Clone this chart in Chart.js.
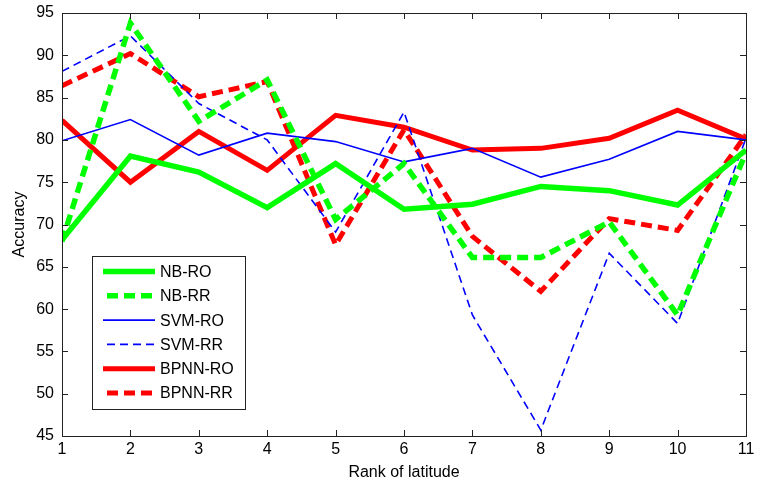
<!DOCTYPE html>
<html>
<head>
<meta charset="utf-8">
<script src="https://cdn.jsdelivr.net/npm/chart.js@4/dist/chart.umd.min.js"></script>
<style>
  html, body { margin: 0; padding: 0; background: #fff; }
  #wrap { width: 759px; height: 482px; }
</style>
</head>
<body>
<div id="wrap"><canvas id="c"></canvas></div>
<script>
"use strict";

// rank of latitude (x axis)
const ranks = [1, 2, 3, 4, 5, 6, 7, 8, 9, 10, 11];
const yTicks = [45, 50, 55, 60, 65, 70, 75, 80, 85, 90, 95];

// accuracy values
const nbRO = [68.2, 78.1, 76.2, 72.0, 77.2, 71.8, 72.4, 74.5, 74.0, 72.3, 78.8];
const nbRR = [68.0, 93.8, 82.2, 87.1, 70.6, 77.2, 66.1, 66.1, 70.3, 59.3, 78.5];
const svmRO = [79.9, 82.4, 78.2, 80.8, 79.8, 77.4, 79.0, 75.6, 77.7, 81.0, 80.0];
const svmRR = [88.1, 92.3, 84.3, 80.0, 69.1, 83.3, 59.3, 45.7, 66.6, 58.3, 80.2];
const bpnnRO = [82.3, 75.0, 81.0, 76.4, 82.9, 81.5, 78.8, 79.0, 80.2, 83.5, 80.1];
const bpnnRR = [86.4, 90.2, 85.1, 86.9, 67.6, 81.2, 68.6, 62.1, 70.7, 69.3, 80.6];

const GREEN = "#00ff00", BLUE = "#0000ff", RED = "#ff0000";
const FONT = "'Liberation Sans', Arial, sans-serif";

function series(label, values, color, width, dash) {
  return {
    label: label,
    data: values.map((v, i) => ({ x: ranks[i], y: v })),
    borderColor: color,
    backgroundColor: color,
    borderWidth: width,
    borderDash: dash,
    pointRadius: 0,
    tension: 0,
    fill: false
  };
}

const datasets = [
  series("NB-RO", nbRO, GREEN, 5.5, []),
  series("NB-RR", nbRR, GREEN, 5.5, [11, 6]),
  series("SVM-RO", svmRO, BLUE, 1.6, []),
  series("SVM-RR", svmRR, BLUE, 1.6, [8, 5]),
  series("BPNN-RO", bpnnRO, RED, 5, []),
  series("BPNN-RR", bpnnRR, RED, 5, [11, 6])
];

// matlab style frame: full box with inward ticks on all four sides
const framePlugin = {
  id: "frame",
  afterDraw(chart) {
    const ctx = chart.ctx, a = chart.chartArea;
    const xs = chart.scales.x, ys = chart.scales.y;
    ctx.save();
    ctx.strokeStyle = "#222";
    ctx.lineWidth = 1;
    ctx.beginPath();
    ranks.forEach(r => {
      const px = Math.round(xs.getPixelForValue(r)) + 0.5;
      ctx.moveTo(px, a.bottom); ctx.lineTo(px, a.bottom - 6);
      ctx.moveTo(px, a.top); ctx.lineTo(px, a.top + 6);
    });
    yTicks.forEach(t => {
      const py = Math.round(ys.getPixelForValue(t)) + 0.5;
      ctx.moveTo(a.left, py); ctx.lineTo(a.left + 6, py);
      ctx.moveTo(a.right, py); ctx.lineTo(a.right - 6, py);
    });
    ctx.stroke();
    ctx.strokeRect(Math.round(a.left) + 0.5, Math.round(a.top) + 0.5,
      Math.round(a.right - a.left), Math.round(a.bottom - a.top));
    ctx.restore();
  }
};

// legend box drawn inside the plot, lower left
const legendPlugin = {
  id: "boxLegend",
  afterDraw(chart) {
    const ctx = chart.ctx;
    const x0 = 92, y0 = 256, w = 153, h = 153, row = 24.3;
    ctx.save();
    ctx.fillStyle = "#fff";
    ctx.fillRect(x0, y0, w, h);
    ctx.strokeStyle = "#222";
    ctx.lineWidth = 1;
    ctx.strokeRect(x0 + 0.5, y0 + 0.5, w, h);
    chart.data.datasets.forEach((ds, i) => {
      const y = y0 + 15.5 + i * row;
      ctx.beginPath();
      ctx.strokeStyle = ds.borderColor;
      ctx.lineWidth = ds.borderWidth;
      ctx.setLineDash(ds.borderDash);
      ctx.moveTo(ds.borderDash.length ? 107 : 103, y);
      ctx.lineTo(155, y);
      ctx.stroke();
      ctx.setLineDash([]);
      ctx.fillStyle = "#000";
      ctx.font = "16px " + FONT;
      ctx.textBaseline = "middle";
      ctx.textAlign = "left";
      ctx.fillText(ds.label, 160, y + 1);
    });
    ctx.restore();
  }
};

new Chart(document.getElementById("c"), {
  type: "line",
  data: { datasets: datasets },
  options: {
    responsive: true,
    maintainAspectRatio: false,
    animation: false,
    layout: { autoPadding: false, padding: { top: 13, right: 13, left: 0, bottom: 0 } },
    plugins: { legend: { display: false }, tooltip: { enabled: false } },
    scales: {
      x: {
        type: "linear",
        min: 1,
        max: 11,
        afterBuildTicks: s => { s.ticks = ranks.map(v => ({ value: v })); },
        afterFit: s => { s.height = 46; s.paddingLeft = 0; s.paddingRight = 0; },
        grid: { display: false, drawTicks: false },
        border: { display: false },
        ticks: { color: "#000", font: { family: FONT, size: 16 }, padding: 4, maxRotation: 0 },
        title: { display: true, text: "Rank of latitude", color: "#000", font: { family: FONT, size: 16 }, padding: { top: 0, bottom: 0 } }
      },
      y: {
        min: 45,
        max: 95,
        afterBuildTicks: s => { s.ticks = yTicks.map(v => ({ value: v })); },
        afterFit: s => { s.width = 62; s.paddingTop = 0; s.paddingBottom = 0; },
        grid: { display: false, drawTicks: false },
        border: { display: false },
        ticks: { color: "#000", font: { family: FONT, size: 16 }, padding: 8 },
        title: { display: true, text: "Accuracy", color: "#000", font: { family: FONT, size: 16 }, padding: { top: 10, bottom: 0 } }
      }
    }
  },
  plugins: [framePlugin, legendPlugin]
});
</script>
</body>
</html>
